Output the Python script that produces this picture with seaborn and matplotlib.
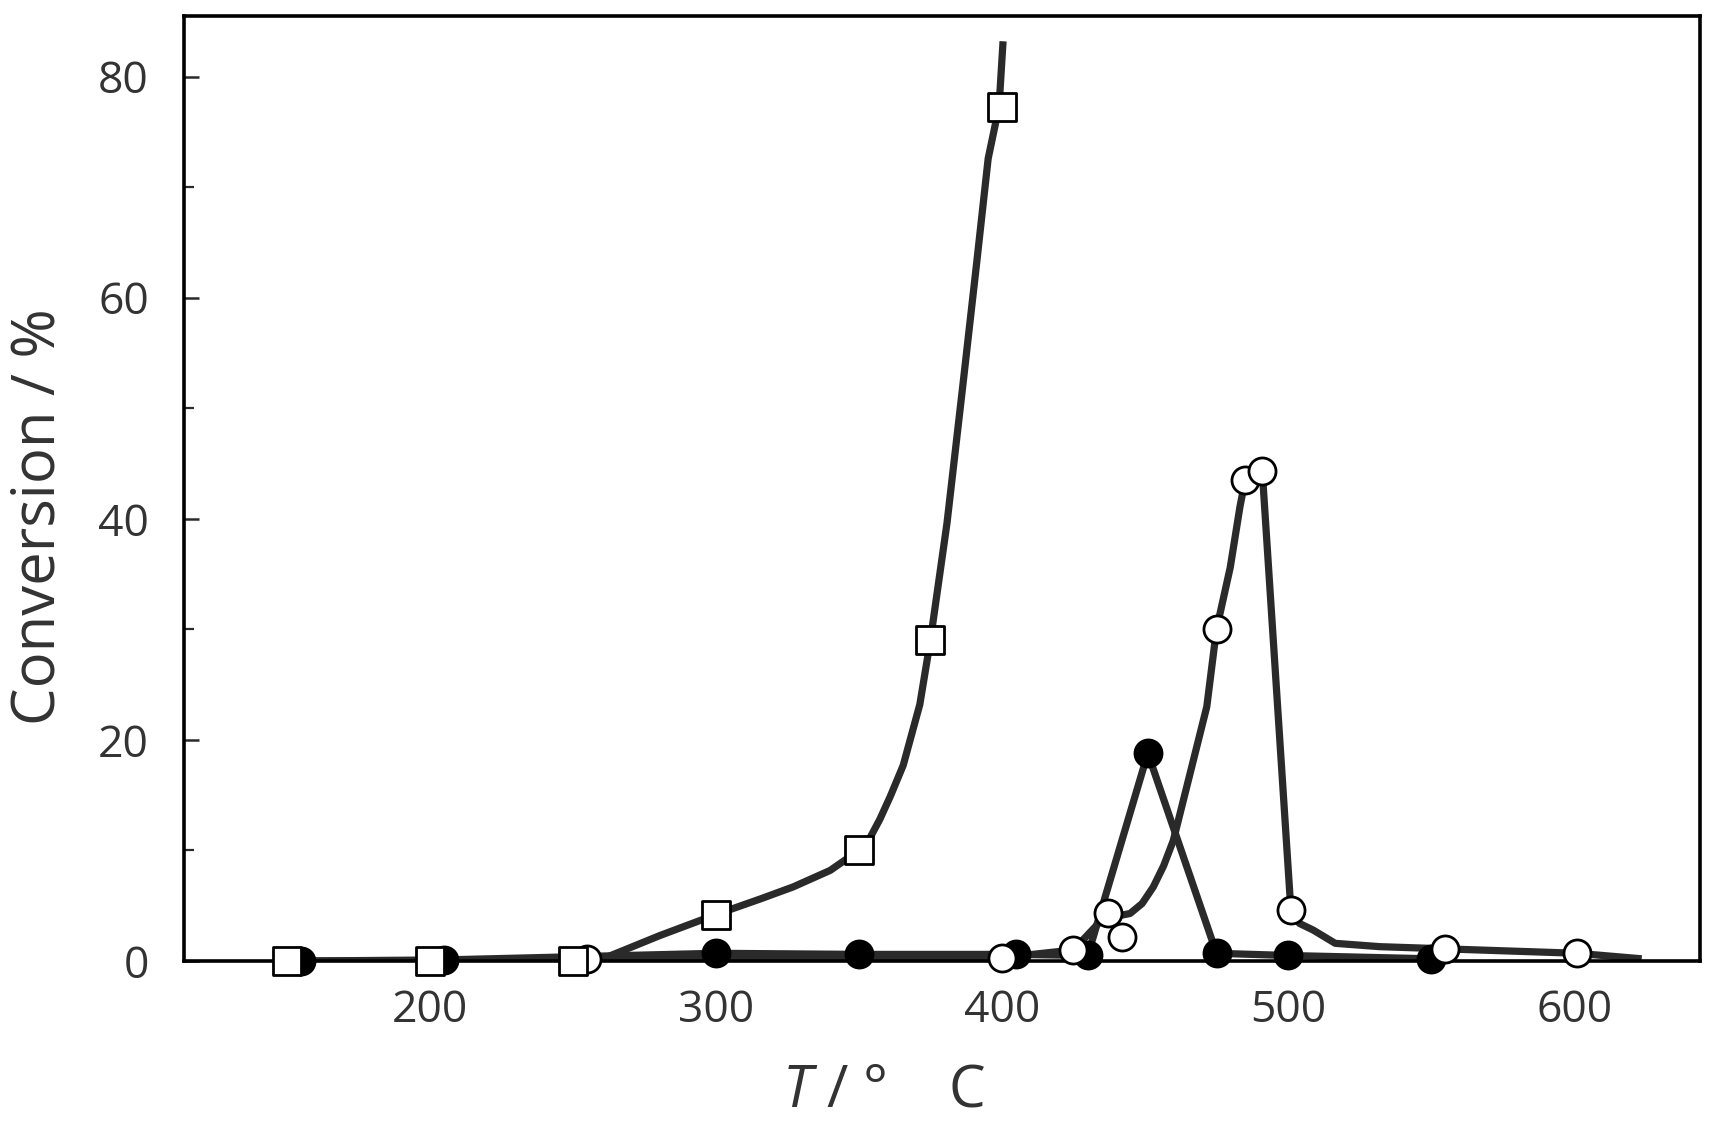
from pathlib import Path

import matplotlib

matplotlib.use("Agg")

import matplotlib.pyplot as plt
import pandas as pd
import seaborn as sns
from matplotlib.ticker import MultipleLocator


OUTPUT_PATH = Path("out.png")

# open squares
SQUARE_T = [150, 200, 250, 300, 350, 375, 400]
SQUARE_CONV = [0.0, 0.0, 0.0, 4.2, 10.0, 29.0, 77.3]
# smooth curve drawn through the squares
SQUARE_CURVE_T = [150, 250, 260.5, 280.4, 300, 315.4, 327, 340, 350, 354,
                  357.3, 361, 365.5, 371.3, 375, 380.8, 386.4, 391.2, 395.2,
                  399, 400.4]
SQUARE_CURVE_CONV = [0.0, 0.0, 0.2, 2.3, 4.2, 5.6, 6.7, 8.2, 10.0, 11.2,
                     12.8, 14.9, 17.7, 23.2, 29.0, 39.6, 52.2, 63.2, 72.6,
                     77.3, 83.2]

# filled circles (straight segments)
FILLED_T = [155, 205, 300, 350, 405, 430, 451, 475, 500, 550]
FILLED_CONV = [0.0, 0.1, 0.7, 0.6, 0.6, 0.5, 18.8, 0.7, 0.5, 0.2]

# open circles
OPEN_T = [255, 400, 425, 437, 442, 475, 485, 491, 501, 555, 601]
OPEN_CONV = [0.2, 0.3, 1.0, 4.3, 2.2, 30.0, 43.5, 44.3, 4.6, 1.1, 0.7]
OPEN_CURVE_T = [255, 400, 425, 437, 441, 444.8, 449, 452.9, 456.5, 459.9,
                465.8, 471.6, 475, 479.8, 483.2, 485, 491, 501, 504, 508.8,
                516.5, 532, 555, 601, 623.6]
OPEN_CURVE_CONV = [0.2, 0.3, 1.0, 4.3, 4.1, 4.3, 5.2, 6.7, 8.6, 10.9,
                   17.0, 23.0, 30.0, 35.6, 41.1, 43.5, 44.3, 4.6, 3.4, 2.8,
                   1.6, 1.3, 1.1, 0.7, 0.2]

X_TICKS = [200, 300, 400, 500, 600]
Y_TICKS = [0, 20, 40, 60, 80]

LINE_COLOR = "#2a2a2a"
TEXT_COLOR = "#333333"


def main() -> None:
    sns.set_style("white")
    plt.rcParams["font.family"] = ["Open Sans", "DejaVu Sans"]
    plt.rcParams["mathtext.fontset"] = "custom"
    plt.rcParams["mathtext.it"] = "Open Sans:italic"
    plt.rcParams["mathtext.rm"] = "Open Sans"

    fig = plt.figure(figsize=(17.16, 11.24), dpi=100)
    ax = fig.add_axes([0.107, 0.145, 0.8837, 0.8404])

    curves = [
        (SQUARE_CURVE_T, SQUARE_CURVE_CONV),
        (FILLED_T, FILLED_CONV),
        (OPEN_CURVE_T, OPEN_CURVE_CONV),
    ]
    for t, conv in curves:
        df = pd.DataFrame({"T": t, "Conversion": conv})
        sns.lineplot(data=df, x="T", y="Conversion", sort=False, estimator=None,
                     color=LINE_COLOR, linewidth=5.2, ax=ax, zorder=2)
    for line in ax.lines:
        line.set_solid_joinstyle("round")
        line.set_solid_capstyle("butt")

    markers = [
        (FILLED_T, FILLED_CONV, "o", "black", 3),
        (OPEN_T, OPEN_CONV, "o", "white", 4),
        (SQUARE_T, SQUARE_CONV, "s", "white", 5),
    ]
    for t, conv, m, face, z in markers:
        df = pd.DataFrame({"T": t, "Conversion": conv})
        sns.scatterplot(data=df, x="T", y="Conversion", marker=m, s=380,
                        facecolor=face, edgecolor="black", linewidth=2.0,
                        ax=ax, zorder=z)

    for coll in ax.collections:
        coll.set_clip_on(False)

    ax.set_xlim(114, 644)
    ax.set_ylim(0, 85.45)
    ax.set_xticks(X_TICKS)
    ax.set_yticks(Y_TICKS)
    ax.yaxis.set_minor_locator(MultipleLocator(10))

    ax.tick_params(axis="x", bottom=False, length=0, pad=20, labelsize=32,
                   labelcolor=TEXT_COLOR)
    ax.tick_params(axis="y", which="both", left=True, direction="in",
                   color=LINE_COLOR)
    ax.tick_params(axis="y", which="major", length=11, width=1.8, pad=25,
                   labelsize=32, labelcolor=TEXT_COLOR)
    ax.tick_params(axis="y", which="minor", length=7, width=1.6)

    for spine in ax.spines.values():
        spine.set_visible(True)
        spine.set_linewidth(2.6)
        spine.set_color("black")

    ax.set_ylabel("Conversion / %", fontsize=43, color=TEXT_COLOR, va="center")
    ax.yaxis.set_label_coords(-0.096, 0.47)
    ax.set_xlabel("$T$ / °    C", fontsize=42, color=TEXT_COLOR, va="center")
    ax.xaxis.set_label_coords(0.462, -0.1376)

    fig.savefig(OUTPUT_PATH, dpi=100)


if __name__ == "__main__":
    main()
